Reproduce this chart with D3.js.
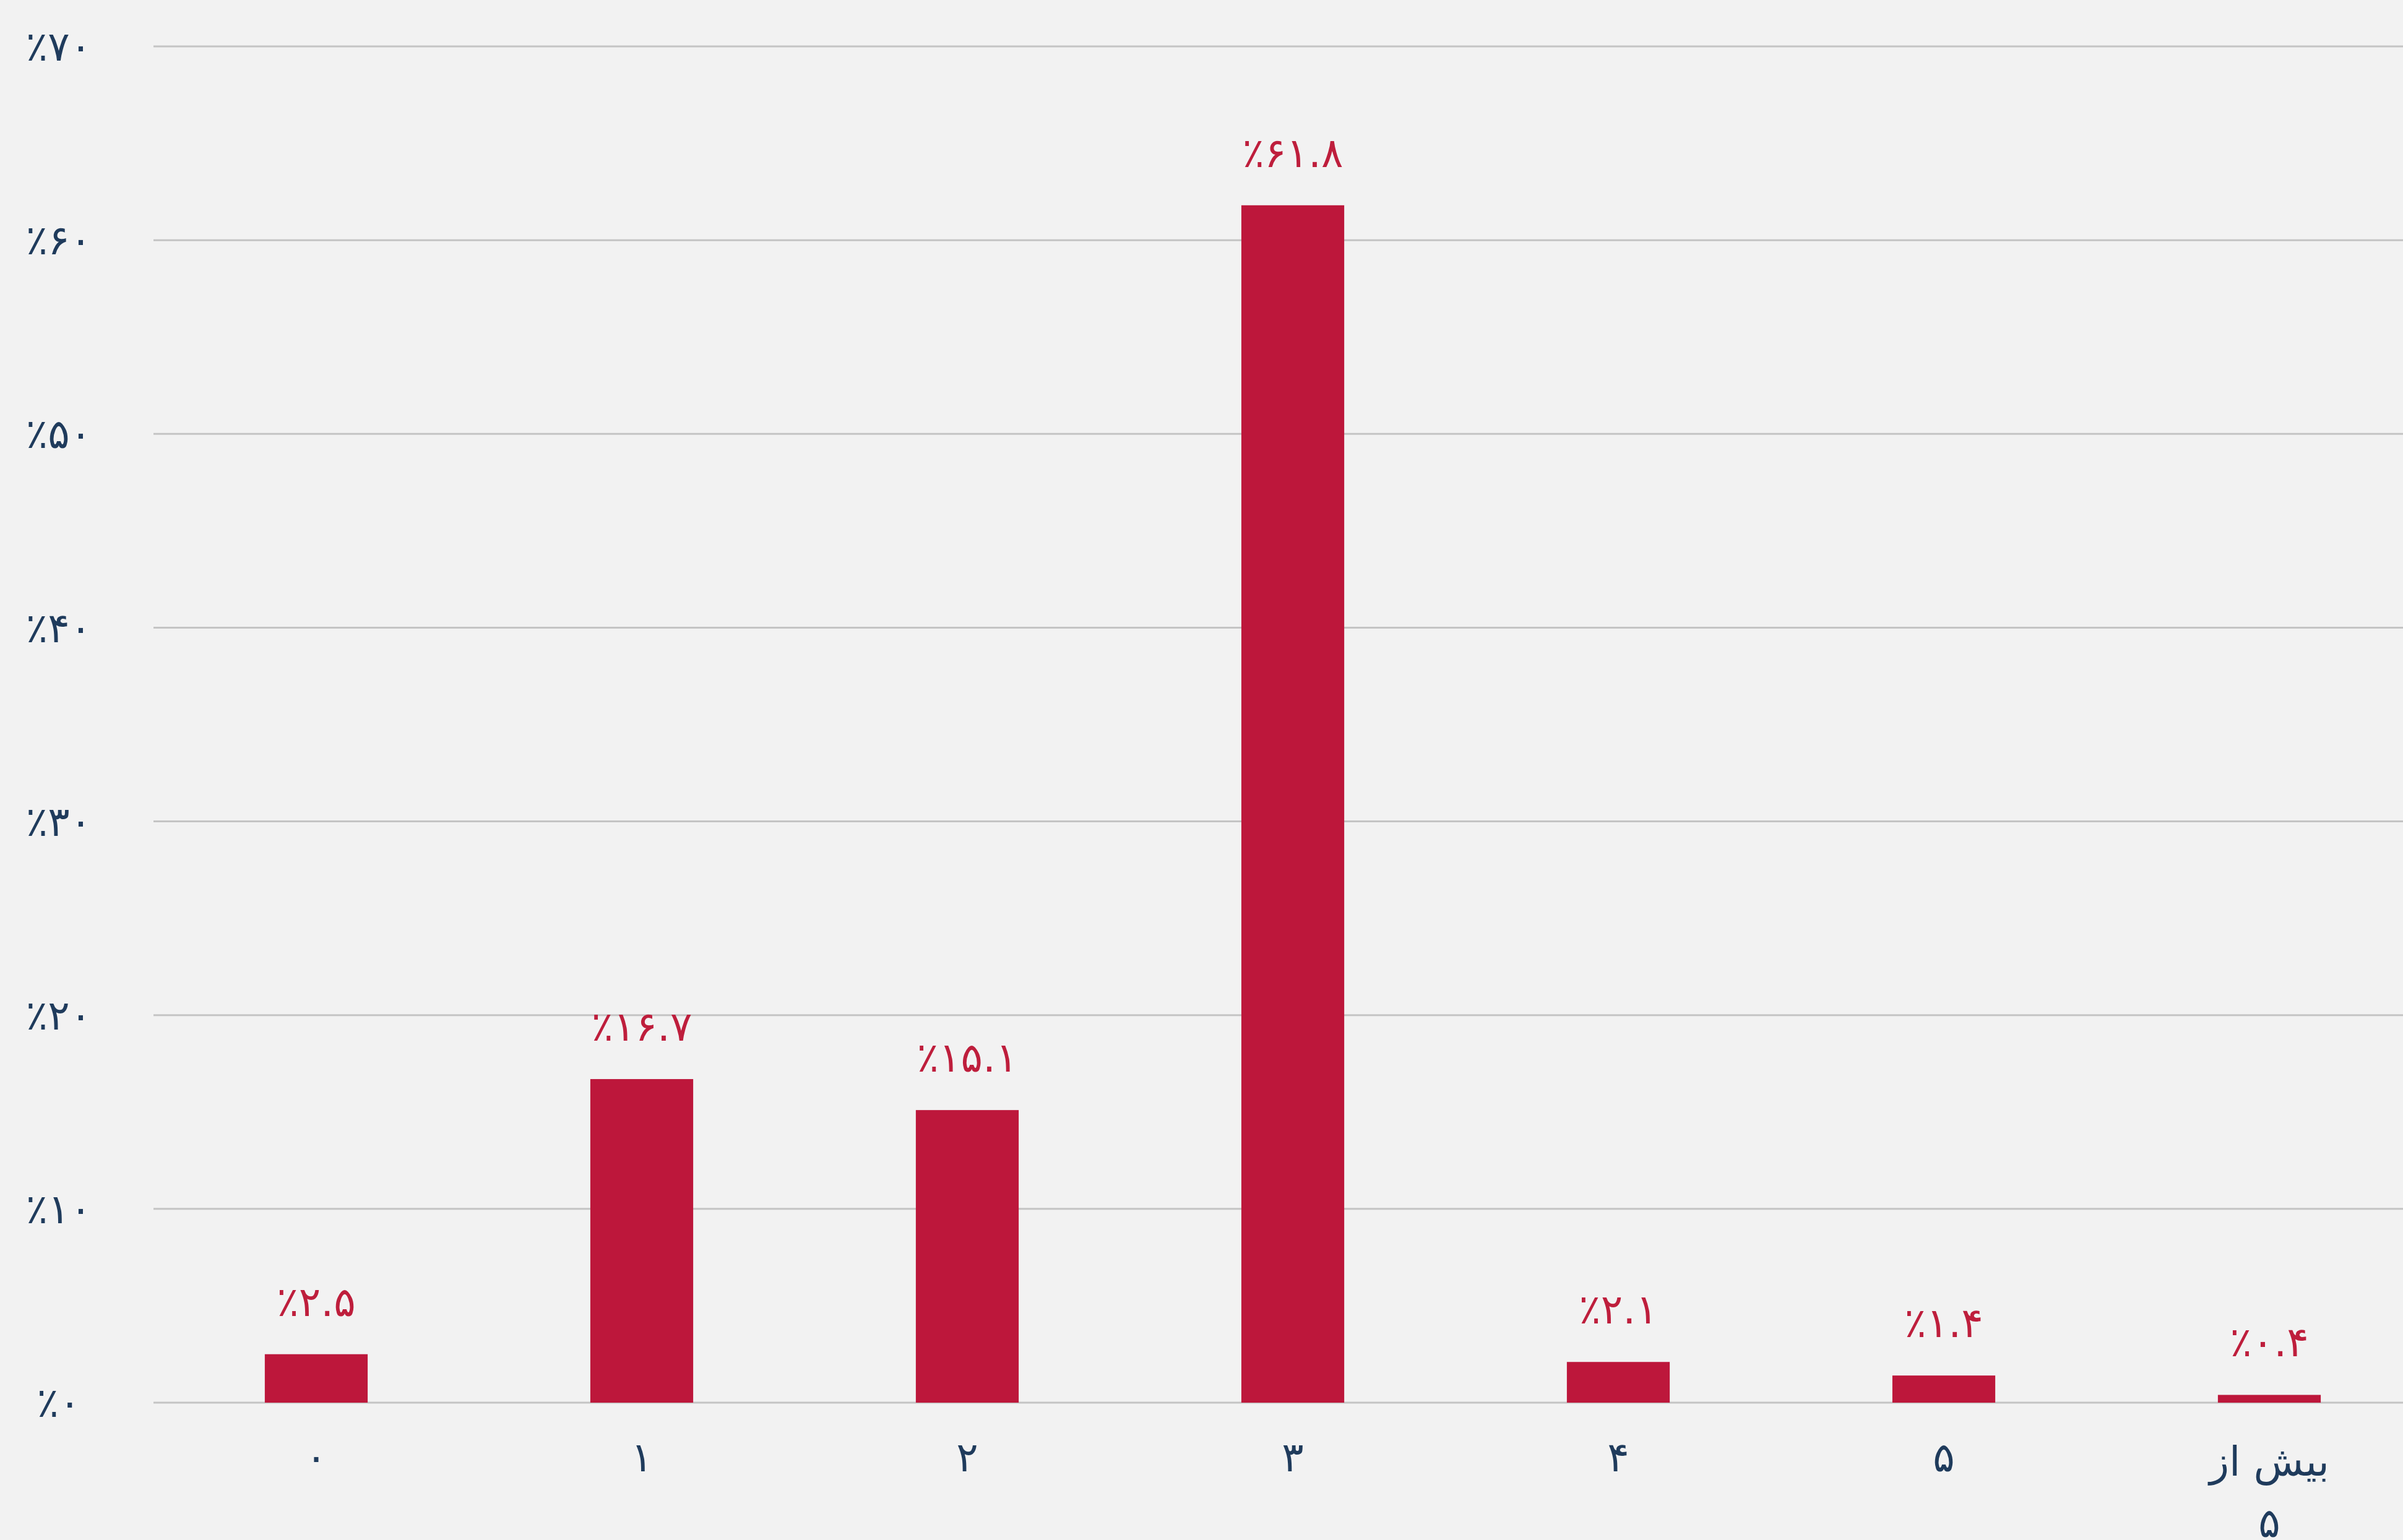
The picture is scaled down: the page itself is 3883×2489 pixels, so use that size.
<!DOCTYPE html>
<html><head><meta charset="utf-8">
<script src="https://cdn.jsdelivr.net/npm/d3@7"></script>
<style>
html,body{margin:0;padding:0;background:#f2f2f2;overflow:hidden}
svg{display:block}
text{font-family:"DejaVu Sans",sans-serif}
</style></head><body>
<script>
const categories = ["۰","۱","۲","۳","۴","۵","بیش از|۵"];
const values = [2.5, 16.7, 15.1, 61.8, 2.1, 1.4, 0.4];
const valueLabels = ["٪۲.۵","٪۱۶.۷","٪۱۵.۱","٪۶۱.۸","٪۲.۱","٪۱.۴","٪۰.۴"];
const yTicks = [0,10,20,30,40,50,60,70];
const yTickLabels = ["٪۰","٪۱۰","٪۲۰","٪۳۰","٪۴۰","٪۵۰","٪۶۰","٪۷۰"];

const W = 3883, H = 2489;
const svg = d3.select("body").append("svg").attr("width",W).attr("height",H);
svg.append("rect").attr("width",W).attr("height",H).attr("fill","#f2f2f2");

const y = d3.scaleLinear().domain([0,70]).range([2267,75]);
const x = d3.scaleBand().domain(categories).range([248,3930]).paddingInner(0.684).paddingOuter(0.342);

const textColor = "#1f3b5c", barColor = "#bd173b";

// gridlines
svg.append("g").selectAll("line").data(yTicks).join("line")
  .attr("x1",248).attr("x2",W)
  .attr("y1",d=>y(d)).attr("y2",d=>y(d))
  .attr("stroke","#c4c4c4").attr("stroke-width",3);

// y labels
svg.append("g").selectAll("text").data(yTicks).join("text")
  .attr("x",95).attr("y",d=>y(d)).attr("dy","0.35em")
  .attr("text-anchor","middle").attr("direction","ltr")
  .attr("font-size",66).attr("fill",textColor)
  .text((d,i)=>yTickLabels[i]);

// bars
svg.append("g").selectAll("rect").data(values).join("rect")
  .attr("x",(d,i)=>x(categories[i])).attr("width",x.bandwidth())
  .attr("y",d=>y(d)).attr("height",d=>y(0)-y(d))
  .attr("fill",barColor);

// value labels
svg.append("g").selectAll("text").data(values).join("text")
  .attr("x",(d,i)=>x(categories[i])+x.bandwidth()/2)
  .attr("y",d=>y(d)-62)
  .attr("text-anchor","middle").attr("direction","ltr")
  .attr("font-size",66).attr("fill","#be1e3c")
  .text((d,i)=>valueLabels[i]);

// x labels
const xl = svg.append("g").selectAll("text").data(categories).join("text")
  .attr("x",d=>x(d)+x.bandwidth()/2)
  .attr("y",2378)
  .attr("text-anchor","middle")
  .attr("font-size",66).attr("fill",textColor);
xl.each(function(d){
  const parts = d.split("|");
  const t = d3.select(this);
  const cx = +t.attr("x");
  parts.forEach((p,i)=>{
    t.append("tspan").attr("x",cx).attr("dy", i===0 ? (parts.length>1?"0.1em":0) : "1.5em").text(p);
  });
});
</script>
</body></html>
